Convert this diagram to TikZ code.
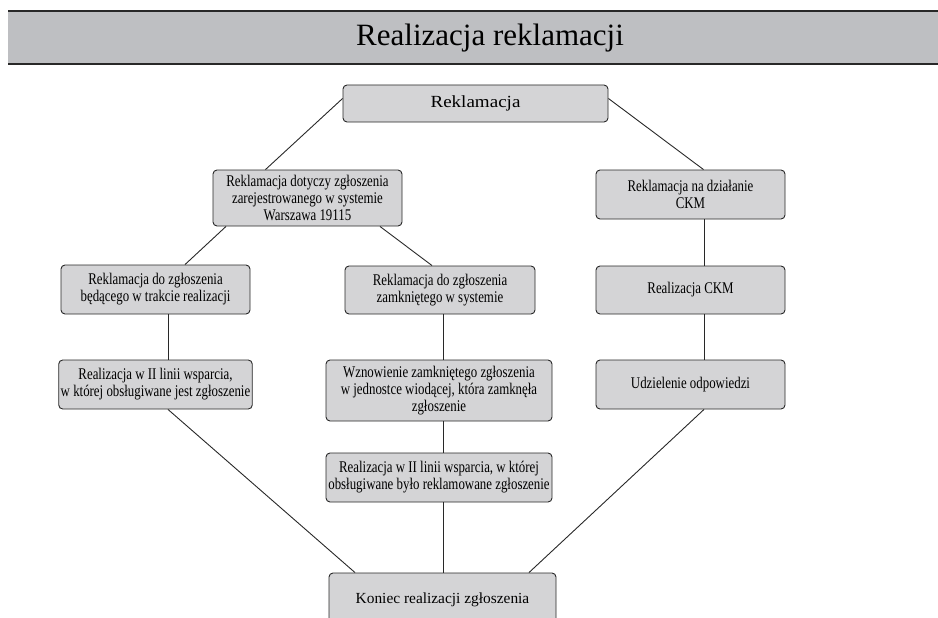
\documentclass[tikz,border=0pt]{standalone}
\usepackage{fontspec}
\setmainfont{Liberation Serif}
\newfontfamily\boxfont[FakeStretch=0.79]{Liberation Serif}
\newfontfamily\widefont[FakeStretch=1.12]{Liberation Serif}
\definecolor{bargray}{RGB}{190,191,194}
\definecolor{boxgray}{RGB}{212,212,214}
\definecolor{linegray}{RGB}{40,40,40}

\begin{document}
\begin{tikzpicture}[x=1pt,y=-1pt,every edge/.style={draw=linegray,line width=0.9pt},box node/.style={rectangle,rounded corners=4pt,draw=linegray,fill=boxgray,line width=0.9pt,align=center,inner sep=2pt,font=\boxfont\fontsize{16.3}{17}\selectfont}]
            \clip (0,0) rectangle (938,618);
            % title bar
            \fill[bargray] (8,11) rectangle (938,64);
            \draw[linegray, line width=2.2pt] (8,11) -- (938,11) (8,64) -- (938,64);
            \node [font=\fontsize{31}{36}\selectfont, anchor=base](0) at (490,46) {Realizacja reklamacji};

            \node [box node, minimum width=265, minimum height=37, font=\widefont\fontsize{17}{20}\selectfont](1) at (475.5,103.5) {Reklamacja};
            \node [box node, minimum width=189, minimum height=56](2) at (307.5,198) {Reklamacja dotyczy zgłoszenia\\zarejestrowanego w systemie\\Warszawa 19115};
            \node [box node, minimum width=189, minimum height=49](3) at (690.5,194.5) {Reklamacja na działanie\\CKM};

            \node [box node, minimum width=189, minimum height=49](4) at (155.5,289.5) {Reklamacja do zgłoszenia\\będącego w trakcie realizacji};
            \node [box node, minimum width=190, minimum height=48](5) at (440,290) {Reklamacja do zgłoszenia\\zamkniętego w systemie};
            \node [box node, minimum width=189, minimum height=48](6) at (690.5,290) {Realizacja CKM};

            \node [box node, minimum width=189, minimum height=49](7) at (155.5,384.5) {Realizacja w II linii wsparcia,\\w której obsługiwane jest zgłoszenie};
            \node [box node, minimum width=226, minimum height=61](8) at (439,390.5) {Wznowienie zamkniętego zgłoszenia\\w jednostce wiodącej, która zamknęła\\zgłoszenie};
            \node [box node, minimum width=189, minimum height=49](9) at (690.5,384.5) {Udzielenie odpowiedzi};

            \node [box node, minimum width=226, minimum height=49](10) at (439,477.5) {Realizacja w II linii wsparcia, w której\\obsługiwane było reklamowane zgłoszenie};

            \node [box node, minimum width=227, minimum height=54, font=\fontsize{15.4}{18}\selectfont](11) at (442.5,600) {Koniec realizacji zgłoszenia};

            \path
                ([yshift=5]1.west) edge ([xshift=-42]2.north)
                ([yshift=5]1.east) edge ([xshift=13]3.north)

                ([xshift=-81.5]2.south) edge ([xshift=29.5]4.north)
                ([xshift=72.5]2.south) edge ([xshift=-8]5.north)
                ([xshift=13.5]3.south) edge ([xshift=13.5]6.north)

                ([xshift=12.5]4.south) edge ([xshift=12.5]7.north)
                ([xshift=3]5.south) edge ([xshift=4]8.north)
                ([xshift=13.5]6.south) edge ([xshift=13.5]9.north)

                ([xshift=4]8.south) edge ([xshift=4]10.north)

                ([xshift=12.5]7.south) edge ([xshift=-87.5]11.north)
                ([xshift=4]10.south) edge ([xshift=0.5]11.north)
                ([xshift=13.5]9.south) edge ([xshift=86.5]11.north)
                ;
\end{tikzpicture}
\end{document}
